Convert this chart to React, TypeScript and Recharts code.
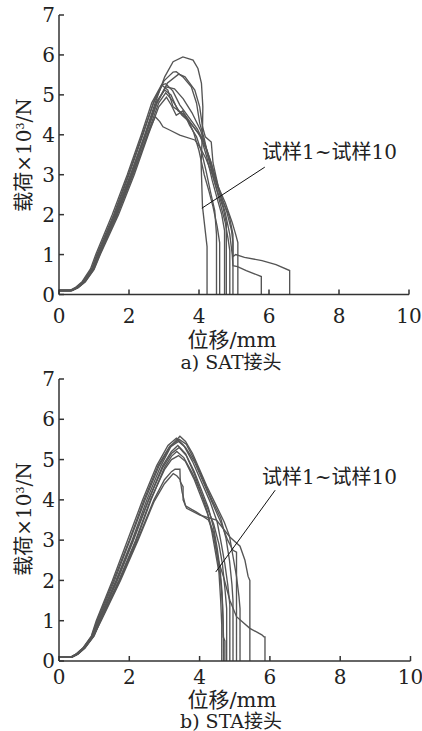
import { LineChart, Line, XAxis, YAxis, ReferenceLine } from "recharts";

type Pt = [number, number];

const xTicks = [0, 2, 4, 6, 8, 10];
const yTicks = [0, 1, 2, 3, 4, 5, 6, 7];

// a) SAT joint, specimens 1-10 (displacement mm, load kN)
const sat1: Pt[] = [[0, 0.1], [0.33, 0.1], [0.5, 0.16], [0.7, 0.3], [0.95, 0.62], [1.12, 1.0], [1.62, 2.0], [2.05, 3.0], [2.45, 4.0], [2.75, 4.8], [3.02, 5.45], [3.26, 5.83], [3.54, 5.95], [3.83, 5.87], [3.97, 5.66], [4.07, 5.29], [4.11, 4.7], [4.1, 4.1], [4.06, 3.3], [4.1, 2.2], [4.23, 1.2], [4.23, 0]];
const sat2: Pt[] = [[0, 0.1], [0.36, 0.1], [0.52, 0.17], [0.72, 0.32], [0.97, 0.64], [1.1, 0.95], [1.58, 2.0], [2.0, 3.0], [2.4, 4.0], [2.72, 4.85], [3.0, 5.35], [3.26, 5.57], [3.35, 5.58], [3.54, 5.45], [3.78, 5.2], [3.93, 4.79], [4.02, 4.29], [4.15, 3.9], [4.3, 3.3], [4.45, 2.8], [4.6, 2.3], [4.75, 1.8], [4.83, 1.4], [4.88, 1.1], [4.88, 0]];
const sat3: Pt[] = [[0, 0.1], [0.38, 0.1], [0.55, 0.17], [0.75, 0.32], [1.0, 0.64], [1.15, 0.97], [1.65, 2.0], [2.08, 3.0], [2.48, 4.0], [2.8, 4.8], [3.1, 5.3], [3.42, 5.52], [3.6, 5.45], [3.88, 5.12], [4.02, 4.7], [4.1, 4.2], [4.18, 3.95], [4.35, 3.82], [4.4, 3.3], [4.55, 2.7], [4.75, 2.3], [4.95, 1.8], [5.05, 1.5], [5.11, 1.3], [5.11, 0]];
const sat4: Pt[] = [[0, 0.1], [0.3, 0.1], [0.46, 0.17], [0.66, 0.32], [0.9, 0.64], [1.05, 1.0], [1.52, 2.0], [1.95, 3.0], [2.35, 4.0], [2.65, 4.8], [2.93, 5.25], [3.11, 5.12], [3.26, 4.7], [3.5, 4.55], [3.7, 4.35], [3.85, 4.05], [4.0, 3.6], [4.15, 3.0], [4.28, 2.6], [4.4, 2.2], [4.52, 1.7], [4.59, 1.3], [4.59, 0]];
const sat5: Pt[] = [[0, 0.1], [0.34, 0.1], [0.5, 0.17], [0.7, 0.32], [0.95, 0.64], [1.1, 1.0], [1.6, 2.0], [2.04, 3.0], [2.46, 4.0], [2.8, 4.85], [3.02, 5.12], [3.2, 5.0], [3.4, 4.6], [3.6, 4.5], [3.8, 4.25], [4.05, 3.95], [4.22, 3.45], [4.38, 2.85], [4.52, 2.4], [4.65, 2.0], [4.73, 1.6], [4.73, 0]];
const sat6: Pt[] = [[0, 0.1], [0.37, 0.1], [0.54, 0.17], [0.75, 0.32], [1.0, 0.62], [1.18, 1.0], [1.7, 2.0], [2.15, 3.0], [2.55, 4.0], [2.85, 4.7], [3.07, 4.94], [3.21, 4.74], [3.35, 4.49], [3.54, 4.6], [3.73, 4.24], [3.93, 3.95], [4.08, 3.55], [4.2, 3.1], [4.32, 2.6], [4.45, 2.1], [4.5, 1.5], [4.5, 0]];
const sat7: Pt[] = [[0, 0.1], [0.35, 0.1], [0.52, 0.17], [0.72, 0.32], [0.97, 0.64], [1.13, 1.0], [1.65, 2.0], [2.1, 3.0], [2.45, 3.8], [2.6, 4.15], [2.75, 4.45], [2.88, 4.33], [2.97, 4.2], [3.16, 4.12], [3.45, 3.99], [3.88, 3.87], [4.02, 3.7], [4.2, 3.4], [4.38, 3.0], [4.52, 2.6], [4.68, 2.2], [4.78, 1.8], [4.78, 0]];
const sat8: Pt[] = [[0, 0.1], [0.36, 0.1], [0.53, 0.17], [0.73, 0.32], [0.98, 0.64], [1.15, 1.0], [1.67, 2.0], [2.12, 3.0], [2.52, 4.0], [2.85, 4.8], [3.05, 5.05], [3.25, 4.85], [3.5, 4.5], [3.75, 4.3], [3.98, 4.05], [4.2, 3.65], [4.4, 3.05], [4.58, 2.55], [4.75, 2.05], [4.88, 1.5], [4.95, 1.0], [4.97, 0.72], [5.1, 0.7], [5.35, 0.6], [5.78, 0.45], [5.78, 0]];
const sat9: Pt[] = [[0, 0.1], [0.32, 0.1], [0.48, 0.17], [0.68, 0.32], [0.93, 0.64], [1.08, 1.0], [1.56, 2.0], [1.98, 3.0], [2.38, 4.0], [2.7, 4.8], [2.95, 5.25], [3.05, 5.28], [3.25, 5.1], [3.45, 4.75], [3.7, 4.45], [3.95, 4.15], [4.15, 3.8], [4.35, 3.3], [4.5, 2.8], [4.68, 2.35], [4.87, 1.95], [4.97, 1.5], [4.97, 0.95], [5.05, 1.0], [5.3, 0.93], [5.8, 0.85], [6.2, 0.75], [6.59, 0.6], [6.59, 0]];
const sat10: Pt[] = [[0, 0.1], [0.34, 0.1], [0.51, 0.17], [0.71, 0.32], [0.96, 0.64], [1.12, 1.0], [1.63, 2.0], [2.07, 3.0], [2.48, 4.0], [2.8, 4.8], [3.05, 5.2], [3.3, 5.15], [3.55, 4.9], [3.8, 4.55], [4.05, 4.1], [4.25, 3.55], [4.45, 3.0], [4.62, 2.5], [4.8, 2.05], [4.93, 1.6], [4.97, 1.3], [4.97, 0]];

// b) STA joint, specimens 1-10
const sta1: Pt[] = [[0, 0.1], [0.36, 0.1], [0.5, 0.17], [0.7, 0.32], [0.95, 0.62], [1.12, 1.0], [1.62, 2.0], [2.08, 3.0], [2.5, 4.0], [2.9, 4.85], [3.2, 5.35], [3.44, 5.58], [3.6, 5.45], [3.8, 5.15], [4.0, 4.75], [4.2, 4.35], [4.45, 3.9], [4.7, 3.45], [4.85, 3.1], [4.95, 2.6], [5.05, 2.1], [5.12, 1.6], [5.15, 1.3], [5.15, 0]];
const sta2: Pt[] = [[0, 0.1], [0.34, 0.1], [0.48, 0.17], [0.68, 0.32], [0.92, 0.62], [1.06, 1.0], [1.52, 2.0], [1.95, 3.0], [2.38, 4.0], [2.78, 4.85], [3.1, 5.35], [3.34, 5.53], [3.55, 5.35], [3.8, 4.95], [4.05, 4.45], [4.3, 3.95], [4.5, 3.45], [4.62, 2.9], [4.72, 2.4], [4.8, 1.9], [4.86, 1.4], [4.86, 0]];
const sta3: Pt[] = [[0, 0.1], [0.35, 0.1], [0.5, 0.17], [0.7, 0.32], [0.94, 0.62], [1.1, 1.0], [1.58, 2.0], [2.02, 3.0], [2.45, 4.0], [2.85, 4.85], [3.15, 5.3], [3.4, 5.45], [3.6, 5.3], [3.85, 4.95], [4.1, 4.45], [4.35, 3.95], [4.6, 3.45], [4.8, 3.0], [4.95, 2.75], [5.05, 2.7], [5.05, 0]];
const sta4: Pt[] = [[0, 0.1], [0.37, 0.1], [0.52, 0.17], [0.72, 0.32], [0.97, 0.62], [1.15, 1.0], [1.66, 2.0], [2.12, 3.0], [2.55, 4.0], [2.95, 4.85], [3.2, 5.2], [3.38, 5.35], [3.6, 5.15], [3.85, 4.7], [4.05, 4.25], [4.25, 3.8], [4.4, 3.3], [4.5, 2.8], [4.58, 2.3], [4.64, 1.7], [4.67, 1.0], [4.67, 0.6], [4.72, 0.5], [4.72, 0]];
const sta5: Pt[] = [[0, 0.1], [0.35, 0.1], [0.51, 0.17], [0.71, 0.32], [0.96, 0.62], [1.14, 1.0], [1.64, 2.0], [2.1, 3.0], [2.55, 4.0], [2.95, 4.8], [3.2, 5.15], [3.42, 5.3], [3.62, 5.1], [3.85, 4.65], [4.05, 4.15], [4.22, 3.7], [4.35, 3.2], [4.45, 2.7], [4.55, 2.2], [4.6, 1.5], [4.63, 0.9], [4.63, 0]];
const sta6: Pt[] = [[0, 0.1], [0.38, 0.1], [0.54, 0.17], [0.74, 0.32], [1.0, 0.62], [1.18, 1.0], [1.72, 2.0], [2.2, 3.0], [2.62, 4.0], [3.0, 4.8], [3.2, 5.08], [3.35, 5.2], [3.55, 5.05], [3.8, 4.65], [4.0, 4.25], [4.2, 3.85], [4.4, 3.4], [4.55, 2.9], [4.65, 2.4], [4.72, 1.8], [4.77, 1.3], [4.77, 0]];
const sta7: Pt[] = [[0, 0.1], [0.36, 0.1], [0.53, 0.17], [0.73, 0.32], [0.98, 0.62], [1.17, 1.0], [1.7, 2.0], [2.18, 3.0], [2.6, 4.0], [3.0, 4.75], [3.2, 5.0], [3.4, 5.1], [3.6, 4.95], [3.85, 4.5], [4.05, 4.05], [4.25, 3.6], [4.4, 3.1], [4.5, 2.6], [4.6, 2.0], [4.65, 1.4], [4.68, 0.6], [4.68, 0]];
const sta8: Pt[] = [[0, 0.1], [0.37, 0.1], [0.53, 0.17], [0.73, 0.32], [0.99, 0.62], [1.18, 1.0], [1.73, 2.0], [2.23, 3.0], [2.7, 4.0], [3.0, 4.5], [3.2, 4.7], [3.3, 4.76], [3.44, 4.76], [3.45, 4.45], [3.53, 4.33], [3.53, 4.0], [3.63, 3.79], [4.01, 3.62], [4.48, 3.5], [4.86, 3.08], [5.15, 2.85], [5.29, 2.5], [5.38, 2.1], [5.43, 2.0], [5.43, 0]];
const sta9: Pt[] = [[0, 0.1], [0.36, 0.1], [0.52, 0.17], [0.72, 0.32], [0.98, 0.62], [1.2, 1.0], [1.75, 2.0], [2.25, 3.0], [2.7, 3.95], [3.0, 4.4], [3.25, 4.65], [3.35, 4.6], [3.45, 4.5], [3.5, 4.2], [3.6, 3.85], [3.9, 3.7], [4.25, 3.5], [4.4, 3.2], [4.53, 2.5], [4.68, 2.09], [4.86, 1.51], [5.05, 1.1], [5.43, 0.81], [5.77, 0.65], [5.83, 0.6], [5.86, 0.6], [5.86, 0]];
const sta10: Pt[] = [[0, 0.1], [0.33, 0.1], [0.48, 0.17], [0.68, 0.32], [0.93, 0.62], [1.08, 1.0], [1.55, 2.0], [2.0, 3.0], [2.42, 4.0], [2.82, 4.85], [3.15, 5.33], [3.42, 5.5], [3.62, 5.38], [3.85, 5.0], [4.1, 4.5], [4.35, 4.0], [4.6, 3.55], [4.75, 3.05], [4.85, 2.5], [4.92, 1.9], [4.95, 1.5], [4.95, 0]];

const satSeries = [sat1, sat2, sat3, sat4, sat5, sat6, sat7, sat8, sat9, sat10];
const staSeries = [sta1, sta2, sta3, sta4, sta5, sta6, sta7, sta8, sta9, sta10];

// leader lines for the "specimen 1~10" note, in data units
const satLeader: Pt[] = [[5.88, 3.19], [4.08, 2.16]];
const staLeader: Pt[] = [[6.15, 4.24], [4.46, 2.21]];

const serif = '"DejaVu Serif", "Noto Sans CJK SC", serif';
const ink = "#222";

interface PanelProps {
  top: number;
  height: number;
  margin: { top: number; right: number; bottom: number; left: number };
  xAxisHeight: number;
  xTickGap: number;
  series: Pt[][];
  leader: Pt[];
  yLabelY: number;
  xLabelY: number;
  captionY: number;
  noteY: number;
  caption: string;
}

function Panel(props: PanelProps) {
  const { top, height, margin, xAxisHeight, xTickGap, series, leader, yLabelY, xLabelY, captionY, noteY, caption } = props;
  const tick = { fill: ink, fontSize: 20, fontFamily: serif };
  const textBase = {
    position: "absolute" as const,
    whiteSpace: "nowrap" as const,
    fontFamily: serif,
    color: ink,
    lineHeight: 1,
  };
  return (
    <>
      <div style={{ position: "absolute", left: 0, top }}>
        <LineChart width={422} height={height} margin={margin}>
          <XAxis
            type="number"
            dataKey="x"
            domain={[0, 10]}
            ticks={xTicks}
            height={xAxisHeight}
            tick={tick}
            tickSize={-5}
            tickMargin={xTickGap}
            stroke="#333"
            strokeWidth={1.5}
            allowDataOverflow
          />
          <YAxis
            type="number"
            dataKey="y"
            domain={[0, 7]}
            ticks={yTicks}
            width={59}
            tick={tick}
            tickSize={-5}
            tickMargin={9}
            stroke="#333"
            strokeWidth={1.5}
            allowDataOverflow
          />
          {series.map((pts, i) => (
            <Line
              key={i}
              data={pts.map(([x, y]) => ({ x, y }))}
              dataKey="y"
              type="linear"
              stroke="#555"
              strokeWidth={1.35}
              dot={false}
              activeDot={false}
              isAnimationActive={false}
            />
          ))}
          <ReferenceLine
            segment={leader.map(([x, y]) => ({ x, y }))}
            stroke="#111"
            strokeWidth={1}
            ifOverflow="visible"
          />
        </LineChart>
      </div>
      <div style={{ ...textBase, left: 24, top: yLabelY, fontSize: 20, transform: "translate(-50%, -50%) rotate(-90deg)" }}>
        载荷×10<sup style={{ fontSize: 11, verticalAlign: "7px" }}>3</sup>/N
      </div>
      <div style={{ ...textBase, left: 232, top: xLabelY, fontSize: 21, transform: "translate(-50%, -50%)" }}>
        位移/mm
      </div>
      <div style={{ ...textBase, left: 231, top: captionY, fontSize: 19, transform: "translate(-50%, -50%)" }}>
        {caption}
      </div>
      <div style={{ ...textBase, left: 262, top: noteY, fontSize: 20, transform: "translateY(-50%)" }}>
        试样1~试样10
      </div>
    </>
  );
}

export default function App() {
  return (
    <div style={{ position: "absolute", left: 0, top: 0, width: 422, height: 731, background: "#fff", overflow: "hidden" }}>
      <Panel
        top={0}
        height={365}
        margin={{ top: 15, right: 13, bottom: 0, left: 0 }}
        xAxisHeight={70.5}
        xTickGap={19}
        series={satSeries}
        leader={satLeader}
        yLabelY={155}
        xLabelY={340}
        captionY={362}
        noteY={152}
        caption="a) SAT接头"
      />
      <Panel
        top={360}
        height={371}
        margin={{ top: 19, right: 11.5, bottom: 0, left: 0 }}
        xAxisHeight={70}
        xTickGap={14}
        series={staSeries}
        leader={staLeader}
        yLabelY={519}
        xLabelY={700}
        captionY={721}
        noteY={477}
        caption="b) STA接头"
      />
    </div>
  );
}
